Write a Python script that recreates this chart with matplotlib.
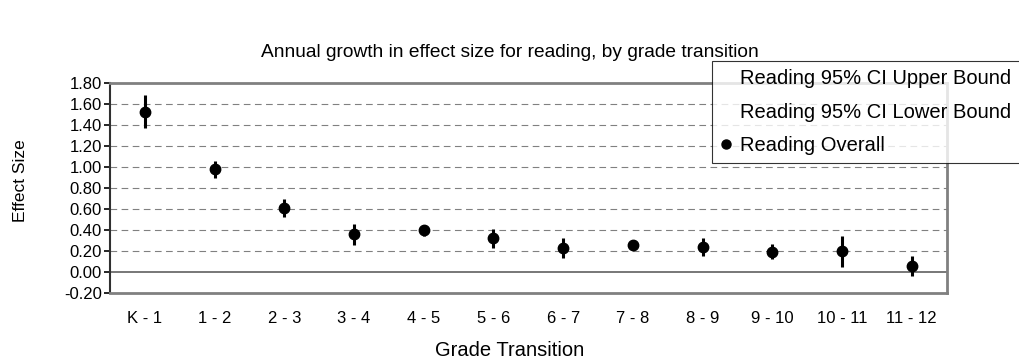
import matplotlib
matplotlib.use('Agg')
import matplotlib.pyplot as plt
from matplotlib.lines import Line2D

plt.rcParams['font.family'] = ['Liberation Sans', 'DejaVu Sans']

grados = ['K - 1', '1 - 2', '2 - 3', '3 - 4', '4 - 5', '5 - 6',
          '6 - 7', '7 - 8', '8 - 9', '9 - 10', '10 - 11', '11 - 12']
efecto = [1.52, 0.98, 0.61, 0.36, 0.40, 0.32, 0.23, 0.26, 0.24, 0.19, 0.20, 0.06]
ic_sup = [1.68, 1.06, 0.69, 0.46, 0.45, 0.41, 0.32, 0.28, 0.32, 0.27, 0.34, 0.15]
ic_inf = [1.37, 0.89, 0.52, 0.26, 0.34, 0.23, 0.13, 0.24, 0.15, 0.12, 0.05, -0.04]

x = list(range(len(grados)))

fig = plt.figure(figsize=(10.19, 3.6), dpi=100)
ax = fig.add_axes([0.108, 0.186, 0.821, 0.584])

# lineas de la cuadricula
for v in [0.2, 0.4, 0.6, 0.8, 1.0, 1.2, 1.4, 1.6]:
    ax.axhline(v, color='#808080', lw=0.8, ls=(0, (6, 4)), zorder=0)
ax.axhline(0, color='#606060', lw=1.2, zorder=1)

# intervalos de confianza y puntos
ax.vlines(x, ic_inf, ic_sup, color='black', lw=2.2, zorder=3)
ax.plot(x, efecto, 'o', color='black', ms=7.5, zorder=4)

ax.set_xlim(-0.5, 11.5)
ax.set_ylim(-0.2, 1.8)
ax.set_xticks(x)
ax.set_xticklabels(grados, fontsize=12)
ax.tick_params(axis='x', length=0, pad=13)
ax.set_yticks([-0.2, 0, 0.2, 0.4, 0.6, 0.8, 1.0, 1.2, 1.4, 1.6, 1.8])
ax.set_yticklabels(['%.2f' % v for v in ax.get_yticks()], fontsize=12)
ax.tick_params(axis='y', length=4, width=1.2, direction='out', pad=2)

for lado in ['top', 'right', 'bottom']:
    ax.spines[lado].set_color('#808080')
    ax.spines[lado].set_linewidth(2)
ax.spines['left'].set_color('#303030')
ax.spines['left'].set_linewidth(1.5)

fig.text(0.5, 0.855, 'Annual growth in effect size for reading, by grade transition',
         ha='center', va='center', fontsize=13.8)
fig.text(0.02, 0.497, 'Effect Size', rotation=90, ha='center', va='center', fontsize=12.5)
fig.text(0.5, 0.027, 'Grade Transition', ha='center', va='center', fontsize=14.5)

handles = [Line2D([], [], ls='none'),
           Line2D([], [], ls='none'),
           Line2D([], [], ls='none', marker='o', color='black', ms=6.5)]
labels = ['Reading 95% CI Upper Bound', 'Reading 95% CI Lower Bound', 'Reading Overall']
leg = fig.legend(handles, labels, loc='upper left', bbox_to_anchor=(0.699, 0.83),
                 fontsize=14.5, frameon=True, fancybox=False, handlelength=0.6,
                 handletextpad=0.4, borderpad=0.4, labelspacing=0.72, borderaxespad=0)
leg.get_frame().set_edgecolor('black')
leg.get_frame().set_linewidth(0.8)

plt.savefig('out.png', dpi=100)
